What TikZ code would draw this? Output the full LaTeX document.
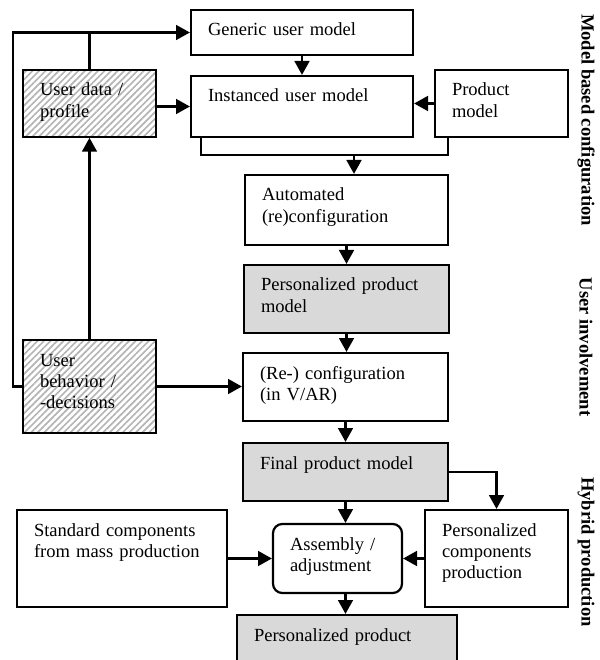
\documentclass[tikz,border=0pt]{standalone}
\usepackage{fontspec}
\setmainfont{Liberation Serif}
\usetikzlibrary{arrows.meta,calc,patterns.meta}
\definecolor{boxgray}{HTML}{D9D9D9}
\definecolor{hatchgray}{HTML}{B4B4B4}
\def\pxu{0.54pt}
\tikzset{
	blk/.code 2 args={%
		\pgfmathsetlengthmacro\blkw{(#1-34)*\pxu}%
		\pgfmathsetlengthmacro\blkh{26*\pxu}%
		\pgfmathsetlengthmacro\blkd{(#2-26)*\pxu}%
		\pgfmathsetlengthmacro\blkx{17*\pxu}%
		\pgfkeysalso{draw, inner xsep=\blkx, inner ysep=0pt, align=left,
			text width=\blkw, text height=\blkh, text depth=\blkd,
			font=\fontsize{10}{11.5}\selectfont}%
	},
	hatch/.style={pattern={Lines[angle=45,distance=2.5pt,line width=0.9pt]}, pattern color=hatchgray},
	arr/.style={-{Triangle[length=7.5pt,width=8pt]}},
	side/.style={font=\fontsize{10}{12}\selectfont\bfseries, rotate=-90, inner sep=0pt},
}

\begin{document}
\begin{tikzpicture}[x=0.54pt,y=-0.54pt,line width=1.2pt]
	\useasboundingbox (0,0) rectangle (599,660);
	% model based configuration
	\node[blk={222}{45}] (gen) at (302,32.5) {Generic user model};
	\node[blk={222}{61}] (inst) at (302,106.5) {Instanced user model};
	\node[blk={133}{67}] (prod) at (501.5,103.5) {Product\\model};
	\node[blk={133}{67},hatch] (udata) at (89.5,103.5) {User data /\\profile};
	\node[blk={203}{70}] (auto) at (346.5,210) {Automated\\(re)configuration};
	\node[blk={205}{68},fill=boxgray] (ppm) at (346.5,299) {Personalized product\\model};
	% user involvement
	\node[blk={205}{68}] (recfg) at (345.5,387) {(Re-) configuration\\(in V/AR)};
	\node[blk={133}{93},hatch] (ubeh) at (89.5,386.5) {User\\behavior /\\-decisions};
	\node[blk={205}{58},fill=boxgray] (final) at (345.5,472) {Final product model};
	% hybrid production
	\node[blk={210}{97}] (std) at (122,558.5) {Standard components\\from mass production};
	\node[blk={129}{69},rounded corners=5pt] (asm) at (337.5,558.5) {Assembly /\\adjustment};
	\node[blk={143}{97}] (pcomp) at (496.5,558.5) {Personalized\\components\\production};
	\node[blk={220}{48},fill=boxgray] (pprod) at (347,639) {Personalized product};
	% side titles
	\node[side] (tmodel) at (586,120) {Model based configuration};
	\node[side] (tuser) at (586,347) {User involvement};
	\node[side] (thybrid) at (586,552) {Hybrid production};
	\coordinate (mrg) at (354,155);
	% connectors
	\draw[arr] (ubeh.west) -- ++(-9,0) |- (gen.west);
	\draw (udata.north) -- (udata.north |- gen.west);
	\draw[arr] (udata.east |- inst.west) -- (inst.west);
	\draw[arr] (prod.west) -- (prod.west -| inst.east);
	\draw[arr] (gen.south) -- (inst.north);
	\draw ($(inst.south west)+(11,0)$) |- (mrg) -| ($(prod.south west)+(14,0)$);
	\draw[arr] (mrg) -- (mrg |- auto.north);
	\draw[arr] (auto.south) -- (ppm.north);
	\draw[arr] (ppm.south) -- (ppm.south |- recfg.north);
	\draw[arr] (ubeh.north) -- (udata.south);
	\draw[arr] (ubeh.east) -- (ubeh.east -| recfg.west);
	\draw[arr] (recfg.south) -- (recfg.south |- final.north);
	\draw[arr] (final.east) -| (pcomp.north);
	\draw[arr] (final.south) -- (final.south |- asm.north);
	\draw[arr] (std.east) -- (asm.west);
	\draw[arr] (pcomp.west) -- (asm.east);
	\draw[arr] (final.south |- asm.south) -- (final.south |- pprod.north);
\end{tikzpicture}
\end{document}
